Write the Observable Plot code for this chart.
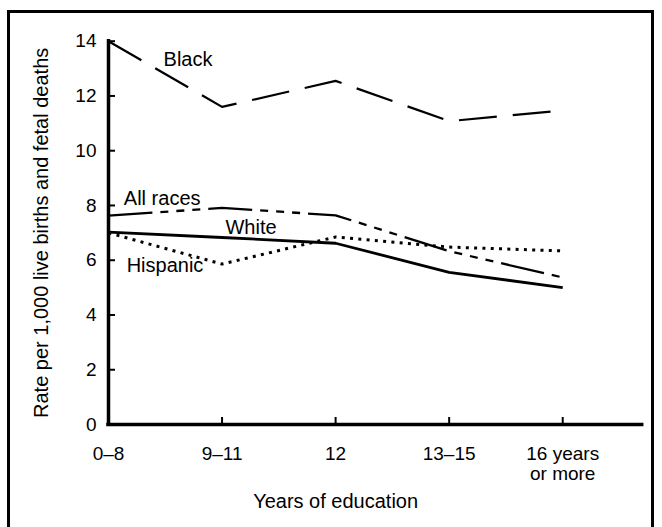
<!DOCTYPE html>
<html><head><meta charset="utf-8">
<script src="https://cdn.jsdelivr.net/npm/d3@7"></script>
<script src="https://cdn.jsdelivr.net/npm/@observablehq/plot@0.6"></script>
<style>
body{margin:0;background:#fff;}
#wrap{position:relative;width:662px;height:527px;overflow:hidden;background:#fff;}
#border{position:absolute;left:7px;top:10px;width:641px;height:600px;border:3px solid #000;}
#chart{position:absolute;left:0;top:0;}
</style></head>
<body><div id="wrap"><div id="border"></div><div id="chart"></div></div>
<script>
// ---- data ----
const categories = ["0–8", "9–11", "12", "13–15", "16 years\nor more"];
const allRaces = [7.63, 7.91, 7.64, 6.33, 5.37];
const white    = [7.03, 6.83, 6.62, 5.56, 5.00];
const black    = [14.0, 11.60, 12.55, 11.08, 11.47];
const hispanic = [7.00, 5.86, 6.85, 6.48, 6.34];
const yTicks = [0, 2, 4, 6, 8, 10, 12, 14];
const seriesNames = ["Black", "All races", "White", "Hispanic"];
// label anchors in data space (category index, rate)
const labelIndex = [0.485, 0.135, 1.03, 0.16];
const labelRate  = [13.1, 8.03, 6.96, 5.56];
const xTitle = "Years of education";
const yTitle = "Rate per 1,000 live births and fetal deaths";

// ---- layout ----
const W = 662, H = 527;
const mL = 108, mR = 20.3, mT = 40.7, mB = 103;
const xMax = 4.7, yMax = 14;
const pxPerX = (W - mL - mR) / xMax;
const pxPerY = (H - mT - mB) / yMax;
const font = "'Liberation Sans', Arial, Helvetica, sans-serif";

const labels = seriesNames.map((name, i) => ({name, x: labelIndex[i], y: labelRate[i]}));
const idx = categories.map((_, i) => i);

const chart = Plot.plot({
  width: W, height: H,
  marginLeft: mL, marginRight: mR, marginTop: mT, marginBottom: mB,
  style: {fontFamily: font, fontSize: "19px", color: "#000", background: "transparent"},
  x: {type: "linear", domain: [0, xMax], axis: null},
  y: {domain: [0, yMax], axis: null},
  marks: [
    // axes lines
    Plot.ruleY([0], {stroke: "#000", strokeWidth: 3.5, strokeLinecap: "square"}),
    Plot.ruleX([0], {y1: 0, y2: yMax, stroke: "#000", strokeWidth: 3.5, strokeLinecap: "square"}),
    // ticks pointing inward
    Plot.ruleY(yTicks.filter(d => d > 0), {y: d => d, x1: 0, x2: 7 / pxPerX, stroke: "#000", strokeWidth: 2}),
    Plot.ruleX(idx.filter(i => i > 0), {x: d => d, y1: 0, y2: 7 / pxPerY, stroke: "#000", strokeWidth: 2}),
    // tick labels
    Plot.axisY({ticks: yTicks, tickSize: 0, tickPadding: 12, fontSize: 19, label: null, tickFormat: d => String(d)}),
    Plot.axisX({ticks: idx, tickSize: 0, tickPadding: 21, fontSize: 19, lineHeight: 1.05, label: null, tickFormat: i => categories[i]}),
    // series
    Plot.lineY(hispanic, {x: (d, i) => i, y: d => d, stroke: "#000", strokeWidth: 3, strokeDasharray: "3,5.3", strokeLinecap: "butt"}),
    Plot.lineY(allRaces, {x: (d, i) => i, y: d => d, stroke: "#000", strokeWidth: 2.3, strokeDasharray: "44,8,8,8,8,8,8,8", strokeLinecap: "butt"}),
    Plot.lineY(white, {x: (d, i) => i, y: d => d, stroke: "#000", strokeWidth: 2.8, strokeLinecap: "butt"}),
    Plot.lineY(black, {x: (d, i) => i, y: d => d, stroke: "#000", strokeWidth: 2.2, strokeDasharray: "38,16", strokeLinecap: "butt"}),
    // series labels
    Plot.text(labels, {x: "x", y: "y", text: "name", textAnchor: "start", lineAnchor: "bottom", fontSize: 20, fill: "#000"}),
    // axis titles
    Plot.text([xTitle], {x: () => (categories.length - 1) / 2, frameAnchor: "bottom", dy: 83.5, lineAnchor: "bottom", fontSize: 20, fill: "#000"}),
    Plot.text([yTitle], {y: () => yMax / 2, frameAnchor: "left", rotate: -90, dx: -61, textAnchor: "middle", lineAnchor: "bottom", fontSize: 20, fill: "#000"})
  ]
});
document.getElementById("chart").appendChild(chart);
</script>
</body></html>
